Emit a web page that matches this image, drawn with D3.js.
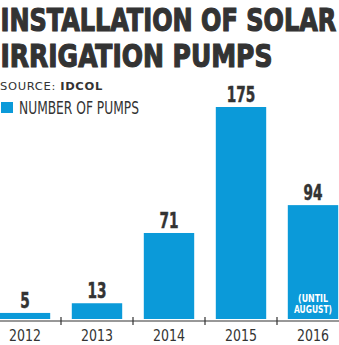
<!DOCTYPE html>
<html><head><meta charset="utf-8">
<script src="https://cdn.jsdelivr.net/npm/d3@7/dist/d3.min.js"></script>
<style>
html,body{margin:0;padding:0;background:#fff;}
svg{display:block;}
</style></head>
<body>
<svg id="c" width="339" height="345"></svg>
<script>
const years = ["2012","2013","2014","2015","2016"];
const pumps = [5, 13, 71, 175, 94];
const titleLines = ["INSTALLATION OF SOLAR", "IRRIGATION PUMPS"];
const sourceLabel = "SOURCE: ";
const sourceName = "IDCOL";
const seriesName = "NUMBER OF PUMPS";
const noteLines = ["(UNTIL", "AUGUST)"];

const W = 339, H = 345;
const font = "'DejaVu Sans Condensed','DejaVu Sans',sans-serif";
const ink = "#333333";
const blue = "#0b9ad9";
const svg = d3.select("#c");

// Place a text at (x,y) and squeeze it horizontally to a target width with a transform
function placeFit(sel, x, y, target) {
  sel.each(function(d, i) {
    const node = this;
    const tx = typeof x === "function" ? x(d, i) : x;
    const ty = typeof y === "function" ? y(d, i) : y;
    const tw = typeof target === "function" ? target(d, i) : target;
    const w = node.getComputedTextLength();
    const s = w > 0 ? tw / w : 1;
    d3.select(node).attr("x", 0).attr("y", 0)
      .attr("transform", `translate(${tx},${ty}) scale(${s},1)`);
  });
}

// Title
const tw = [336, 272];
titleLines.forEach((t, i) => {
  const el = svg.append("text")
    .attr("font-family", font).attr("font-weight", "bold").attr("font-size", 32.5)
    .attr("fill", ink).attr("stroke", ink).attr("stroke-width", 1.2)
    .text(t);
  placeFit(el, 0.5, 31 + i * 36, tw[i]);
});
// Source
const src = svg.append("text")
  .attr("font-family", "'DejaVu Sans',sans-serif").attr("font-size", 10.5).attr("fill", ink)
  .attr("letter-spacing", 0.6);
src.append("tspan").text(sourceLabel);
src.append("tspan").attr("font-weight", "bold").text(sourceName);
placeFit(src, 0, 89.5, 103);

// Legend
svg.append("rect").attr("x", 1).attr("y", 102).attr("width", 12).attr("height", 11).attr("fill", blue);
const leg = svg.append("text").attr("font-family", font).attr("font-size", 17.5)
  .attr("fill", ink).text(seriesName);
placeFit(leg, 19, 114, 120);

// Scales
const baseY = 319;
const x = d3.scaleBand().domain(years).range([-11, 349]).paddingInner(0.3).paddingOuter(0.15);
const y = d3.scaleLinear().domain([0, 175]).range([baseY, 107]);

svg.selectAll("rect.bar").data(years).join("rect").attr("class", "bar")
  .attr("x", d => x(d)).attr("width", x.bandwidth())
  .attr("y", (d, i) => y(pumps[i])).attr("height", (d, i) => baseY - y(pumps[i]))
  .attr("fill", blue);

const vals = svg.selectAll("text.val").data(years).join("text").attr("class", "val")
  .attr("text-anchor", "middle").attr("font-family", font).attr("font-weight", "bold")
  .attr("font-size", 22).attr("fill", ink).attr("stroke", ink).attr("stroke-width", 0.5)
  .text((d, i) => pumps[i]);
placeFit(vals, d => x(d) + x.bandwidth() / 2, (d, i) => y(pumps[i]) - 5,
  (d, i) => String(pumps[i]).length * 9.5);

// Note inside last bar
const noteW = [30, 38];
noteLines.forEach((t, i) => {
  const el = svg.append("text")
    .attr("text-anchor", "middle").attr("font-family", font).attr("font-weight", "bold")
    .attr("font-size", 10.5).attr("fill", "#fff").text(t);
  placeFit(el, x("2016") + x.bandwidth() / 2, 302 + i * 11, noteW[i]);
});

// Axis
const axisY = 321;
svg.append("line").attr("x1", 0).attr("x2", W).attr("y1", axisY).attr("y2", axisY)
  .attr("stroke", ink).attr("stroke-width", 1.2);
const step = x.step();
svg.selectAll("line.tick").data(years.slice(1)).join("line").attr("class", "tick")
  .attr("x1", d => x(d) - step * x.paddingInner() / 2).attr("x2", d => x(d) - step * x.paddingInner() / 2)
  .attr("y1", axisY - 4).attr("y2", axisY + 4).attr("stroke", ink).attr("stroke-width", 1.2);
const yrs = svg.selectAll("text.yr").data(years).join("text").attr("class", "yr")
  .attr("text-anchor", "middle").attr("font-family", font).attr("font-size", 15)
  .attr("fill", ink).text(d => d);
placeFit(yrs, d => x(d) + x.bandwidth() / 2, 340.5, 32);
</script>
</body></html>
